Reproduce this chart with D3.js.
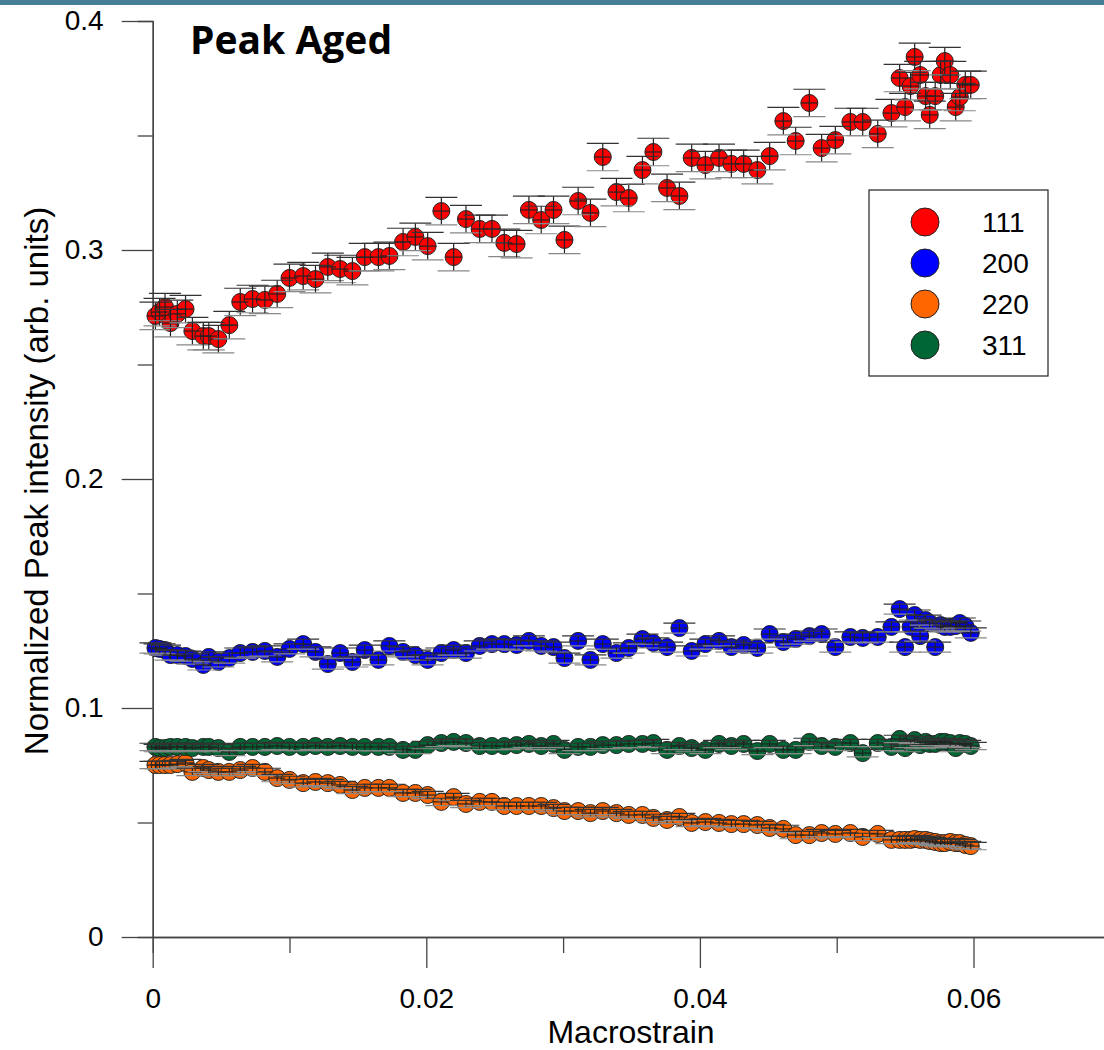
<!DOCTYPE html>
<html>
<head>
<meta charset="utf-8">
<script src="https://cdn.jsdelivr.net/npm/d3@7"></script>
<style>
  body { margin: 0; background: #fff; }
  svg { display: block; font-family: "Liberation Sans", Arial, sans-serif; }
</style>
</head>
<body>
<div id="chart"></div>
<script>
// strain values shared by all four peaks
var strain = [0.0002,0.0005,0.0009,0.0013,0.0018,0.0024,0.0029,0.0037,0.0041,0.0048,
  0.0056,0.0064,0.0073,0.0082,0.0091,0.0100,0.0110,0.0119,0.0128,0.0137,
  0.0146,0.0155,0.0165,0.0173,0.0183,0.0192,0.0201,0.0211,0.0220,0.0229,
  0.0239,0.0248,0.0257,0.0266,0.0275,0.0284,0.0293,0.0301,0.0311,0.0320,
  0.0329,0.0339,0.0348,0.0358,0.0366,0.0376,0.0385,0.0394,0.0404,0.0414,
  0.0423,0.0432,0.0442,0.0451,0.0461,0.0470,0.0480,0.0489,0.0499,0.0510,
  0.0519,0.0530,0.0540,0.0546,0.0550,0.0554,0.0557,0.0561,0.0565,0.0568,
  0.0572,0.0576,0.0579,0.0583,0.0587,0.0590,0.0594,0.0598];

var peak111 = [0.2712,0.2729,0.2751,0.2681,0.2721,0.2742,0.2646,0.2624,0.2624,0.2611,
  0.2672,0.2773,0.2786,0.2782,0.2808,0.2878,0.2886,0.2873,0.2926,0.2917,
  0.2908,0.2969,0.2969,0.2974,0.3035,0.3057,0.3017,0.3170,0.2969,0.3135,
  0.3092,0.3092,0.3031,0.3026,0.3175,0.3131,0.3175,0.3044,0.3214,0.3162,
  0.3406,0.3253,0.3227,0.3349,0.3428,0.3271,0.3236,0.3402,0.3371,0.3402,
  0.3376,0.3376,0.3349,0.3410,0.3563,0.3476,0.3642,0.3445,0.3480,0.3559,
  0.3559,0.3507,0.3598,0.3751,0.3624,0.3716,0.3843,0.3764,0.3672,0.3590,
  0.3672,0.3764,0.3825,0.3764,0.3624,0.3668,0.3721,0.3721];

var peak200 = [0.1262,0.1258,0.1253,0.1231,0.1231,0.1227,0.1214,0.1188,0.1223,0.1201,
  0.1218,0.1240,0.1245,0.1249,0.1223,0.1258,0.1279,0.1245,0.1192,0.1240,
  0.1201,0.1253,0.1210,0.1271,0.1245,0.1231,0.1210,0.1240,0.1253,0.1240,
  0.1271,0.1279,0.1279,0.1275,0.1293,0.1271,0.1266,0.1218,0.1293,0.1210,
  0.1279,0.1240,0.1262,0.1301,0.1284,0.1266,0.1349,0.1249,0.1279,0.1293,
  0.1266,0.1275,0.1262,0.1323,0.1288,0.1301,0.1314,0.1323,0.1266,0.1310,
  0.1306,0.1310,0.1354,0.1432,0.1266,0.1354,0.1406,0.1314,0.1384,0.1371,
  0.1266,0.1362,0.1354,0.1354,0.1358,0.1371,0.1358,0.1328];

var peak220 = [0.0751,0.0751,0.0751,0.0751,0.0755,0.0760,0.0721,0.0738,0.0729,0.0721,
  0.0721,0.0729,0.0738,0.0721,0.0694,0.0686,0.0672,0.0677,0.0672,0.0664,
  0.0642,0.0651,0.0651,0.0651,0.0629,0.0629,0.0620,0.0590,0.0611,0.0581,
  0.0590,0.0590,0.0572,0.0572,0.0572,0.0572,0.0563,0.0550,0.0550,0.0541,
  0.0550,0.0541,0.0533,0.0533,0.0520,0.0511,0.0524,0.0498,0.0502,0.0498,
  0.0493,0.0493,0.0489,0.0476,0.0472,0.0445,0.0445,0.0454,0.0450,0.0454,
  0.0437,0.0450,0.0424,0.0424,0.0424,0.0424,0.0428,0.0424,0.0424,0.0419,
  0.0415,0.0410,0.0410,0.0415,0.0410,0.0410,0.0402,0.0397];

var peak311 = [0.0830,0.0825,0.0825,0.0830,0.0830,0.0830,0.0825,0.0830,0.0830,0.0825,
  0.0808,0.0830,0.0830,0.0830,0.0834,0.0830,0.0830,0.0834,0.0830,0.0834,
  0.0830,0.0830,0.0830,0.0830,0.0817,0.0817,0.0838,0.0847,0.0852,0.0847,
  0.0834,0.0834,0.0834,0.0838,0.0843,0.0834,0.0843,0.0817,0.0830,0.0830,
  0.0838,0.0838,0.0843,0.0843,0.0847,0.0817,0.0834,0.0825,0.0817,0.0843,
  0.0834,0.0843,0.0812,0.0843,0.0817,0.0817,0.0852,0.0834,0.0830,0.0847,
  0.0803,0.0847,0.0830,0.0865,0.0825,0.0843,0.0860,0.0838,0.0852,0.0843,
  0.0843,0.0852,0.0852,0.0847,0.0825,0.0847,0.0843,0.0834];

var seriesNames = ["111", "200", "220", "311"];
var seriesColors = ["#ff0000", "#0000ff", "#ff6600", "#006633"];
var seriesErrors = [0.006, 0.0022, 0.0016, 0.0016];
var strainError = 0.0006;

var xTicks = [0, 0.02, 0.04, 0.06];
var xMinor = [0.01, 0.03, 0.05, 0.07];
var yTicks = [0, 0.1, 0.2, 0.3, 0.4];
var yMinor = [0.05, 0.15, 0.25, 0.35];

var seriesValues = [peak111, peak200, peak220, peak311];

var svgWidth = 1104;
var svgHeight = 1050;

var svg = d3.select("#chart")
  .append("svg")
  .attr("width", svgWidth)
  .attr("height", svgHeight);

// teal strip along the top
svg.append("rect")
  .attr("x", 0).attr("y", 0)
  .attr("width", svgWidth).attr("height", 5)
  .attr("fill", "#467e98");

var x = d3.scaleLinear().domain([0, 0.07]).range([152.7, 1110.3]);
var y = d3.scaleLinear().domain([0, 0.4]).range([937, 21]);

function fmt(d) { return d === 0 ? "0" : String(d); }

// minor ticks
svg.append("g")
  .attr("class", "axis")
  .attr("transform", "translate(0,937)")
  .call(d3.axisBottom(x).tickValues(xMinor).tickSize(16).tickFormat(""));
svg.append("g")
  .attr("class", "axis")
  .attr("transform", "translate(152.7,0)")
  .call(d3.axisLeft(y).tickValues(yMinor).tickSize(15).tickFormat(""));

// major axes
svg.append("g")
  .attr("class", "axis")
  .attr("transform", "translate(0,937)")
  .call(d3.axisBottom(x).tickValues(xTicks).tickSize(31).tickSizeOuter(0).tickPadding(20).tickFormat(fmt));

svg.append("g")
  .attr("class", "axis")
  .attr("transform", "translate(152.7,0)")
  .call(d3.axisLeft(y).tickValues(yTicks).tickSize(31).tickSizeOuter(0).tickPadding(18).tickFormat(fmt));

svg.selectAll(".axis path, .axis line")
  .attr("stroke", "#444")
  .attr("stroke-width", 1.3);
svg.selectAll(".axis text")
  .attr("font-family", "Liberation Sans, Arial, sans-serif")
  .attr("font-size", 28)
  .attr("fill", "#000");

// axis titles
svg.append("text")
  .attr("x", 631).attr("y", 1043)
  .attr("text-anchor", "middle")
  .attr("font-size", 32)
  .text("Macrostrain");

svg.append("text")
  .attr("transform", "translate(48,481) rotate(-90)")
  .attr("text-anchor", "middle")
  .attr("font-size", 33)
  .text("Normalized Peak intensity (arb. units)");

svg.append("text")
  .attr("x", 190).attr("y", 54)
  .attr("font-family", "Open Sans, sans-serif")
  .attr("font-weight", "bold")
  .attr("font-size", 39)
  .text("Peak Aged");

// data
seriesValues.forEach(function(vals, si) {
  var pts = vals.map(function(v, i) { return { x: strain[i], y: v }; });
  var err = seriesErrors[si];
  var g = svg.append("g");

  g.selectAll("circle")
    .data(pts)
    .enter().append("circle")
    .attr("cx", d => x(d.x))
    .attr("cy", d => y(d.y))
    .attr("r", 8.5)
    .attr("fill", seriesColors[si])
    .attr("stroke", "#222")
    .attr("stroke-width", 1);

  var bars = g.selectAll("g.bar")
    .data(pts)
    .enter().append("g")
    .attr("class", "bar")
    .attr("stroke", "#222")
    .attr("stroke-width", 1.2);

  bars.append("line")
    .attr("x1", d => x(d.x)).attr("x2", d => x(d.x))
    .attr("y1", d => y(d.y + err)).attr("y2", d => y(d.y - err));
  bars.append("line")
    .attr("x1", d => x(d.x - strainError)).attr("x2", d => x(d.x + strainError))
    .attr("y1", d => y(d.y)).attr("y2", d => y(d.y));
  bars.append("line")
    .attr("stroke", "#333")
    .attr("x1", d => x(d.x) - 16).attr("x2", d => x(d.x) + 16)
    .attr("y1", d => y(d.y + err)).attr("y2", d => y(d.y + err));
  bars.append("line")
    .attr("stroke", "#888")
    .attr("x1", d => x(d.x) - 16).attr("x2", d => x(d.x) + 16)
    .attr("y1", d => y(d.y - err)).attr("y2", d => y(d.y - err));
});

// legend
var legend = svg.append("g");
legend.append("rect")
  .attr("x", 869).attr("y", 190)
  .attr("width", 179).attr("height", 186)
  .attr("fill", "#fff")
  .attr("stroke", "#222")
  .attr("stroke-width", 1.2);

var legendY = d3.scalePoint().domain(seriesNames).range([222, 345]);

seriesNames.forEach(function(name, i) {
  legend.append("circle")
    .attr("cx", 925).attr("cy", legendY(name))
    .attr("r", 14)
    .attr("fill", seriesColors[i])
    .attr("stroke", "#222")
    .attr("stroke-width", 1);
  legend.append("text")
    .attr("x", 982).attr("y", legendY(name) + 10)
    .attr("font-size", 28)
    .text(name);
});
</script>
</body>
</html>
